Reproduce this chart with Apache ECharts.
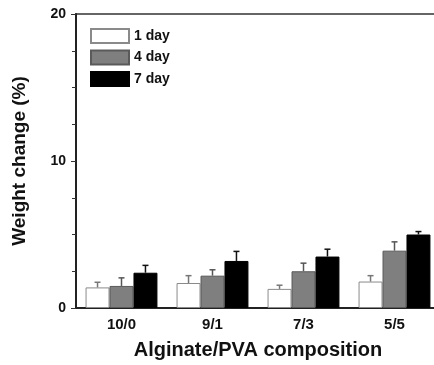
<!DOCTYPE html>
<html>
<head>
<meta charset="utf-8">
<script src="https://cdn.jsdelivr.net/npm/echarts@6/dist/echarts.min.js"></script>
<style>
	html, body { margin: 0; padding: 0; background: #fff; overflow: hidden; }
	/* the original figure is cropped at its right edge, so the canvas runs past the window */
	#chart { width: 450px; height: 365px; }
</style>
</head>
<body>
<div id="chart"></div>
<script>
	// 数据
	var categories = ['10/0', '9/1', '7/3', '5/5'];
	var seriesNames = ['1 day', '4 day', '7 day'];
	var day1 = [1.4, 1.7, 1.3, 1.8];
	var day4 = [1.5, 2.2, 2.5, 3.9];
	var day7 = [2.4, 3.2, 3.5, 5.0];
	var err1 = [0.35, 0.5, 0.25, 0.4];
	var err4 = [0.55, 0.4, 0.55, 0.6];
	var err7 = [0.5, 0.65, 0.5, 0.2];
	var yTicks = [0, 10, 20];

	var values = [day1, day4, day7];
	var errors = [err1, err4, err7];
	var fills = ['#ffffff', '#7f7f7f', '#000000'];
	var borders = ['#8a8a8a', '#5a5a5a', '#000000'];
	var errColors = ['#777777', '#555555', '#111111'];
	var font = '"Liberation Sans", Arial, sans-serif';

	var errData = [];
	for (var s = 0; s < 3; s++) {
		for (var i = 0; i < categories.length; i++) {
			errData.push([i, values[s][i], values[s][i] + errors[s][i], s]);
		}
	}

	var myChart = echarts.init(document.getElementById('chart'));
	var series = seriesNames.map(function (name, s) {
		return {
			name: name,
			type: 'bar',
			barGap: '0%',
			barCategoryGap: '21%',
			data: values[s],
			itemStyle: { color: fills[s], borderColor: borders[s], borderWidth: 1 }
		};
	});
	series.push({
		type: 'custom',
		z: 5,
		data: errData,
		renderItem: function (params, api) {
			var cat = api.value(0), s = api.value(3);
			var band = api.size([1, 0])[0];
			var bw = band * 0.79 / 3;
			var off = (s - 1) * bw;
			var p0 = api.coord([cat, api.value(1)]);
			var p1 = api.coord([cat, api.value(2)]);
			var x = p0[0] + off;
			var st = { stroke: errColors[s], lineWidth: 1.5 };
			return {
				type: 'group',
				children: [
					{ type: 'line', shape: { x1: x, y1: p0[1], x2: x, y2: p1[1] }, style: st },
					{ type: 'line', shape: { x1: x - 3, y1: p1[1], x2: x + 3, y2: p1[1] }, style: st }
				]
			};
		}
	});

	myChart.setOption({
		animation: false,
		grid: { left: 76, top: 14, width: 364, height: 295, show: true, borderColor: '#333', borderWidth: 1.5 },
		legend: {
			data: seriesNames,
			orient: 'vertical',
			left: 90,
			top: 28,
			padding: 0,
			icon: 'rect',
			itemWidth: 38,
			itemHeight: 14,
			itemGap: 5.5,
			textStyle: { fontFamily: font, fontWeight: 'bold', fontSize: 14, color: '#111' }
		},
		xAxis: [{
			type: 'category',
			data: categories,
			name: 'Alginate/PVA composition',
			nameLocation: 'middle',
			nameGap: 32,
			nameTextStyle: { fontFamily: font, fontWeight: 'bold', fontSize: 20, color: '#111' },
			axisLine: { lineStyle: { color: '#222', width: 2 } },
			axisTick: { alignWithLabel: true, length: 4, lineStyle: { color: '#333' } },
			axisLabel: { margin: 9, fontFamily: font, fontWeight: 'bold', fontSize: 15, color: '#111' }
		}, {
			type: 'category',
			data: categories,
			position: 'bottom',
			axisLine: { show: false },
			axisTick: { length: 4, lineStyle: { color: '#333' } },
			axisLabel: { show: false }
		}],
		yAxis: {
			type: 'value',
			min: yTicks[0],
			max: yTicks[yTicks.length - 1],
			interval: 10,
			name: 'Weight change (%)',
			nameLocation: 'middle',
			nameGap: 47,
			nameTextStyle: { fontFamily: font, fontWeight: 'bold', fontSize: 19, color: '#111' },
			axisLine: { show: true, lineStyle: { color: '#222', width: 2 } },
			axisTick: { show: true, length: 5, lineStyle: { color: '#333' } },
			minorTick: { show: true, splitNumber: 4, length: 4, lineStyle: { color: '#333' } },
			splitLine: { show: false },
			axisLabel: { margin: 10, fontFamily: font, fontWeight: 'bold', fontSize: 14, color: '#111' }
		},
		series: series
	});
</script>
</body>
</html>
